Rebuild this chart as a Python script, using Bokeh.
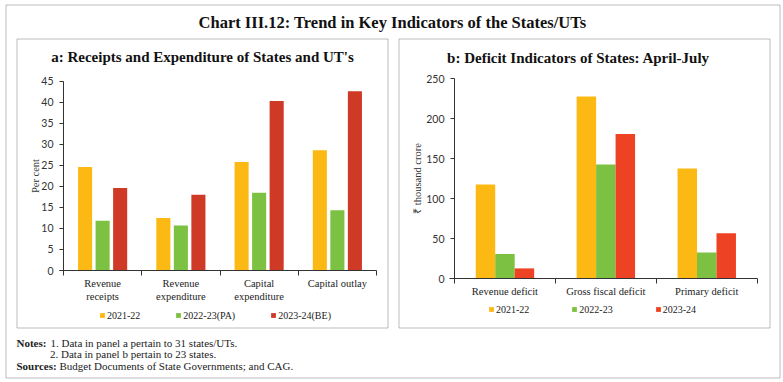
from bokeh.plotting import figure
from bokeh.models import (Range1d, FixedTicker, Legend, LegendItem, LinearAxis,
                          Label, BoxAnnotation)
from bokeh.embed import file_html
from bokeh.resources import INLINE

# ---------------- data ----------------
cats_a = ["Revenue receipts", "Revenue expenditure", "Capital expenditure", "Capital outlay"]
labels_a = ["Revenue\nreceipts", "Revenue\nexpenditure", "Capital\nexpenditure", "Capital outlay"]
series_a = ["2021-22", "2022-23(PA)", "2023-24(BE)"]
a_2021_22 = [24.6, 12.5, 25.8, 28.6]
a_2022_23 = [11.8, 10.7, 18.5, 14.3]
a_2023_24 = [19.6, 18.0, 40.3, 42.6]
yticks_a = [0, 5, 10, 15, 20, 25, 30, 35, 40, 45]

cats_b = ["Revenue deficit", "Gross fiscal deficit", "Primary deficit"]
labels_b = ["Revenue deficit", "Gross fiscal deficit", "Primary deficit"]
series_b = ["2021-22", "2022-23", "2023-24"]
b_2021_22 = [118, 228, 138]
b_2022_23 = [31, 143, 33]
b_2023_24 = [13, 181, 57]
yticks_b = [0, 50, 100, 150, 200, 250]

chart_title = "Chart III.12: Trend in Key Indicators of the States/UTs"
title_a = "a: Receipts and Expenditure of States and UT's"
title_b = "b: Deficit Indicators of States: April-July"

# ---------------- style ----------------
SERIF = "Liberation Serif"
SANS = "Lato"
YELLOW = "#FDB913"
GREEN = "#7DC142"
RED_A = "#CF3A27"
RED_B = "#EE4224"
INK = "#222222"

W, H = 781, 380   # canvas (pixel-like coordinates, y measured from the top)

p = figure(width=W, height=H, x_range=Range1d(0, W), y_range=Range1d(H, 0),
           x_axis_type=None, y_axis_type=None, title=None,
           min_border=0, min_border_left=0, min_border_right=0,
           min_border_top=0, min_border_bottom=0,
           output_backend="svg", toolbar_location=None)
p.outline_line_color = None
p.background_fill_color = "white"
p.border_fill_color = "white"


def span_range(d0, p0, d1, p1, total, down=False):
    """Range so that data d0 sits at pixel p0 and d1 at pixel p1."""
    def val(px):
        return d0 + (px - p0) * (d1 - d0) / (p1 - p0)
    if down:
        return Range1d(start=val(total), end=val(0))
    return Range1d(start=val(0), end=val(total))


def add_panel(key, cats, labels, series, values, colors, ymax, yticks, ylabel,
              xpx, ypx, bar_w, offset, leg_loc, leg_spacing, ylab_standoff):
    n = len(cats)
    p.extra_x_ranges[key] = span_range(0, xpx[0], n, xpx[1], W)
    p.extra_y_ranges[key] = span_range(0, ypx[0], ymax, ypx[1], H, down=True)

    items = []
    for j, (name, vals) in enumerate(zip(series, values)):
        xs = [i + 0.5 + (j - 1) * offset for i in range(n)]
        r = p.vbar(x=xs, top=vals, width=bar_w, fill_color=colors[j], line_color=None,
                   x_range_name=key, y_range_name=key)
        items.append(LegendItem(label=name, renderers=[r]))

    ya = LinearAxis(x_range_name=key, y_range_name=key, fixed_location=0,
                    bounds=(0, ymax), ticker=FixedTicker(ticks=yticks))
    ya.minor_tick_line_color = None
    ya.major_tick_out = 4
    ya.major_tick_in = 0
    ya.major_tick_line_color = "#333"
    ya.axis_line_color = "#333"
    ya.major_label_text_font = SANS
    ya.major_label_text_font_size = "10.5px"
    ya.major_label_text_color = "#333"
    ya.major_label_standoff = 6
    ya.axis_label = ylabel
    ya.axis_label_text_font = SERIF
    ya.axis_label_text_font_size = "10.5px"
    ya.axis_label_text_font_style = "normal"
    ya.axis_label_text_color = "#333"
    ya.axis_label_standoff = ylab_standoff
    p.add_layout(ya, "left")

    centers = [i + 0.5 for i in range(n)]
    xa = LinearAxis(x_range_name=key, y_range_name=key, fixed_location=0,
                    bounds=(-0.05, n),
                    ticker=FixedTicker(ticks=centers, minor_ticks=list(range(n + 1))))
    xa.major_label_overrides = {c: lab for c, lab in zip(centers, labels)}
    xa.major_tick_out = 0
    xa.major_tick_in = 0
    xa.minor_tick_out = 5
    xa.minor_tick_in = 0
    xa.minor_tick_line_color = "#333"
    xa.axis_line_color = "#333"
    xa.major_label_text_font = SERIF
    xa.major_label_text_font_size = "10.5px"
    xa.major_label_text_color = INK
    xa.major_label_standoff = 2
    p.add_layout(xa, "below")

    leg = Legend(items=items, location=leg_loc, orientation="horizontal",
                 glyph_width=6, glyph_height=6, label_standoff=2,
                 spacing=leg_spacing, padding=0, margin=0,
                 border_line_color=None, background_fill_alpha=0,
                 label_text_font=SERIF, label_text_font_size="10px",
                 label_text_color=INK, label_height=12, label_width=10)
    p.add_layout(leg)


# panel a: frame x 63..376, y: 0 at 270, 45 at 80.7
add_panel("a", cats_a, labels_a, series_a, [a_2021_22, a_2022_23, a_2023_24],
          [YELLOW, GREEN, RED_A], 45, yticks_a, "Per cent",
          (63, 376), (270, 80.7), 0.18, 0.224, (99, H - 321), 35, -3)
# panel b: frame x 454..756.7, y: 0 at 278.3, 250 at 78.3
add_panel("b", cats_b, labels_b, series_b, [b_2021_22, b_2022_23, b_2023_24],
          [YELLOW, GREEN, RED_B], 250, yticks_b, "\u20b9 thousand crore",
          (454, 756.7), (278.3, 78.3), 0.193, 0.193, (488, H - 315), 42, 0)

# borders: outer frame and the two panel frames
for l, r, t, b in [(5.5, 779.5, 4.5, 377.5), (16.5, 387.5, 38.5, 327.5), (398.5, 769.5, 38.5, 327.5)]:
    p.add_layout(BoxAnnotation(left=l, right=r, top=t, bottom=b, fill_alpha=0,
                               line_color=INK, line_width=1, level="overlay"))


def text(x, y, s, size, bold=False, align="left", color=INK):
    p.add_layout(Label(x=x, y=y, text=s, text_font=SERIF, text_font_size=size,
                       text_font_style="bold" if bold else "normal",
                       text_align=align, text_baseline="middle", text_color=color))


text(392, 22, chart_title, "16.5px", bold=True, align="center", color="#111")
text(202, 56, title_a, "15px", bold=True, align="center", color="#111")
text(578, 57, title_b, "15px", bold=True, align="center", color="#111")

text(16, 342.5, "Notes:", "11px", bold=True)
text(50, 342.5, "1. Data in panel a pertain to 31 states/UTs.", "11px")
text(49.5, 353.5, "2. Data in panel b pertain to 23 states.", "11px")
text(16, 365, "Sources:", "11px", bold=True)
text(59, 365, "Budget Documents of State Governments; and CAG.", "11px")

open("out.html", "w").write(file_html(p, INLINE))
